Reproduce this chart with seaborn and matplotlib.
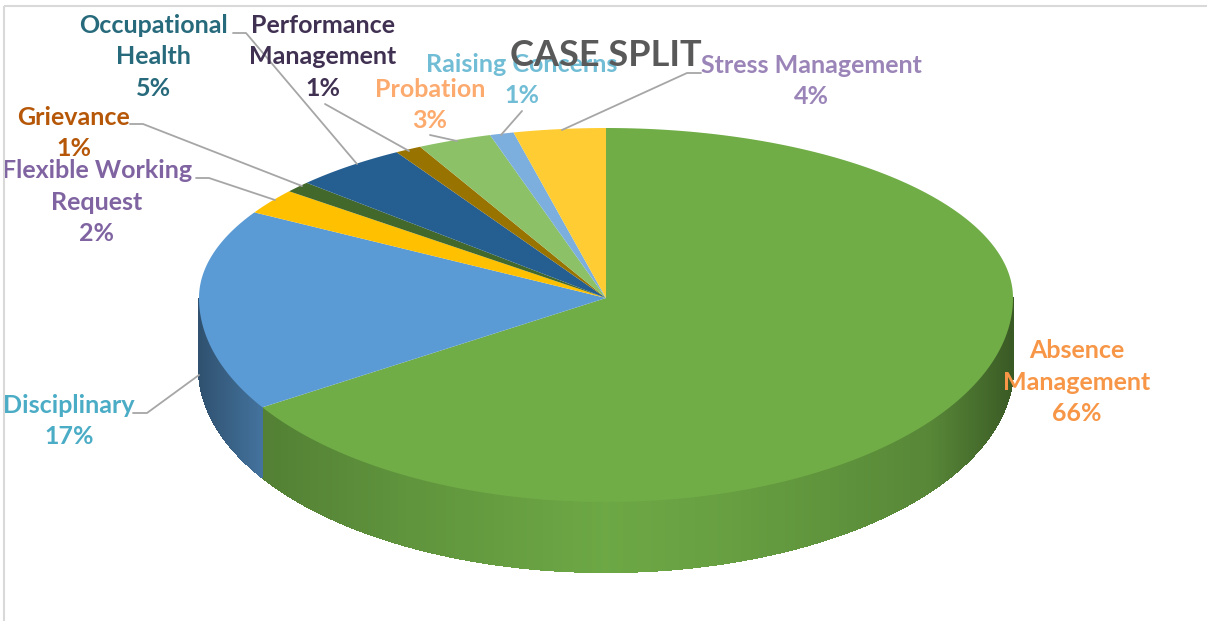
import numpy as np
import matplotlib
matplotlib.use("Agg")
import matplotlib.pyplot as plt
import seaborn as sns
from matplotlib.collections import PolyCollection
from matplotlib.patches import Rectangle
from matplotlib.transforms import Affine2D

W, H = 1207, 621

# ---- data ----
categories = ["Absence\nManagement", "Disciplinary", "Flexible Working\nRequest", "Grievance",
              "Occupational\nHealth", "Performance\nManagement", "Probation",
              "Raising Concerns", "Stress Management"]
values = [66.0, 17.4, 2.4, 1.05, 4.55, 1.05, 2.95, 0.95, 3.65]
slice_colors = ["#70AD47", "#5B9BD5", "#FFC000", "#43682B", "#255E91",
                "#997300", "#8CC168", "#7CAFDD", "#FFCD33"]
label_colors = ["#F79646", "#4BACC6", "#8064A2", "#B65708", "#276A7C",
                "#403152", "#FCAA6E", "#71BDD6", "#9B85B8"]
title_text = "CASE SPLIT"

# ---- layout (pixels of the figure) ----
label_xy = [(1077, 382), (69, 421), (97, 202), (74, 133), (153, 57),
            (323, 57), (430, 105), (522, 80), (811, 81)]
leaders = [None,
           [(133, 413), (147, 413), (199, 375)],
           [(196, 178), (209, 178), (275, 200)],
           [(130, 124), (143, 124), (302, 186)],
           [(233, 33), (246, 33), (357, 164)],
           [(325, 104), (409, 151)],
           [(430, 135), (457, 141)],
           [(522, 111), (501, 135)],
           [(701, 73), (687, 73), (562, 130)]]
cx, cy, rx, ry_back, ry_front, depth_px = 606, 298, 407, 170, 204, 70

sns.set_theme(style="white")
plt.rcParams["font.family"] = ["Lato", "DejaVu Sans"]

fig = plt.figure(figsize=(W / 100, H / 100), dpi=100, facecolor="white")
ax = fig.add_axes([0, 0, 1, 1])

wedges, _ = ax.pie(values, startangle=90, counterclock=False, colors=slice_colors, radius=1)
ax.set_aspect("auto")


def fwd(y):
    y = np.asarray(y, dtype=float)
    return np.where(y >= 0, y * ry_back, y * ry_front)


def inv(y):
    y = np.asarray(y, dtype=float)
    return np.where(y >= 0, y / ry_back, y / ry_front)


ax.set_yscale("function", functions=(fwd, inv))
ax.set_xlim(-cx / rx, (W - cx) / rx)
ax.set_ylim(-(H - cy) / ry_front, cy / ry_back)
ax.set_axis_off()

depth = depth_px / ry_front
sx = [-1.0, -0.84, -0.5, 0.0, 0.3, 0.6, 0.8, 0.93, 1.0]
sv = [0.52, 0.74, 0.85, 0.97, 0.92, 0.84, 0.78, 0.62, 0.52]

for w, col in zip(wedges, slice_colors):
    w.set_visible(False)
    base = np.array(matplotlib.colors.to_rgb(col))
    t = np.radians(np.linspace(w.theta1, w.theta2, max(3, int((w.theta2 - w.theta1) * 4))))
    # side wall (front half only)
    idx = np.where(np.sin(t) <= 1e-9)[0]
    if len(idx) > 1:
        tf = t[idx]
        polys, cols = [], []
        for a, b in zip(tf[:-1], tf[1:]):
            xa, ya, xb, yb = np.cos(a), np.sin(a), np.cos(b), np.sin(b)
            polys.append([(xa, ya), (xb, yb), (xb, yb - depth), (xa, ya - depth)])
            cols.append(base * np.interp((xa + xb) / 2, sx, sv))
        ax.add_collection(PolyCollection(polys, facecolors=cols, edgecolors=cols,
                                         linewidths=0.9, antialiaseds=False, zorder=2))
    # top face
    ax.fill(np.r_[0, np.cos(t)], np.r_[0, np.sin(t)], color=col, lw=0, zorder=3)

px = Affine2D().scale(1, -1).translate(0, H)

fig.add_artist(Rectangle((4, 6), W - 8 + 6, H, transform=px, fill=False,
                         edgecolor="#D9D9D9", lw=1.5))

for pts in leaders:
    if pts:
        xs, ys = zip(*pts)
        ax.plot(xs, ys, color="#A6A6A6", lw=1.3, transform=px, zorder=4, clip_on=False)

total = sum(values)
for name, v, col, (x, y) in zip(categories, values, label_colors, label_xy):
    ax.text(x, y, f"{name}\n{round(v / total * 100)}%", color=col, transform=px, ha="center",
            va="center", ma="center", fontsize=18, fontweight="bold", linespacing=1.47, zorder=5)

ax.text(606, 55, title_text, color="#595959", transform=px, ha="center", va="center",
        fontsize=26, fontweight="bold", zorder=6)

fig.savefig("out.png", dpi=100, facecolor="white")
